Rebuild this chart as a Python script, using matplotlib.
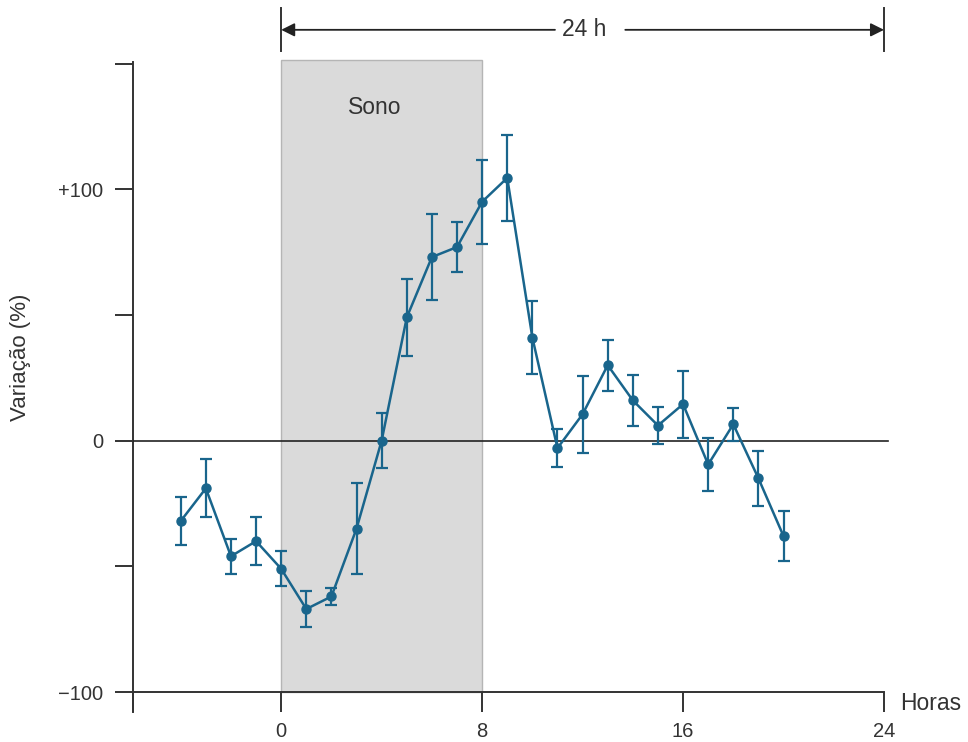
import matplotlib
matplotlib.use("Agg")
import matplotlib.pyplot as plt
from matplotlib.patches import Rectangle

plt.rcParams['font.family'] = ['Liberation Sans', 'DejaVu Sans']

# Hourly variation (%) relative to the daily mean, with error bars
hours = [-4, -3, -2, -1, 0, 1, 2, 3, 4, 5, 6, 7, 8, 9, 10,
         11, 12, 13, 14, 15, 16, 17, 18, 19, 20]
variation = [-32, -19, -46, -40, -51, -67, -62, -35, 0, 49, 73, 77, 95, 104.5, 41,
             -3, 10.5, 30, 16, 6, 14.5, -9.5, 6.5, -15, -38]
err = [9.5, 11.5, 7, 9.5, 7, 7, 3.5, 18, 11, 15.3, 17, 10, 16.7, 17, 14.7,
       7.5, 15.3, 10.2, 10.2, 7.2, 13.3, 10.5, 6.5, 11, 10]

sleep_start, sleep_end = 0, 8
xticks = [0, 8, 16, 24]
yticks = [-100, -50, 0, 50, 100, 150]
ytick_labels = ['\u2212100', '', '0', '', '+100', '']

line_color = '#19658c'
ink = '#333333'

fig = plt.figure(figsize=(9.68, 7.42), dpi=100)
W, H = 968, 742
x_left, x_right = -5.9, 24
y_bot, y_top = -100, 150.6
ax = fig.add_axes([133 / W, (H - 692) / H, (884 - 133) / W, (692 - 62) / H])
ax.set_xlim(x_left, x_right)
ax.set_ylim(y_bot, y_top)
for s in ax.spines.values():
    s.set_visible(False)

# Sleep period
ax.add_patch(Rectangle((sleep_start, y_bot), sleep_end - sleep_start, 151.4 - y_bot,
                       facecolor='#dadada', edgecolor='#b5b5b5', linewidth=1,
                       clip_on=False, zorder=0))
ax.text(3.74, 132.4, 'Sono', fontsize=16.5, color=ink, ha='center', va='center')

# Axis lines
ax.plot([x_left, x_left], [-108, y_top], color=ink, lw=1.4, clip_on=False, zorder=1)
ax.plot([x_left, x_right], [y_bot, y_bot], color=ink, lw=1.4, clip_on=False, zorder=1)
ax.plot([x_left, 24.15], [0, 0], color='#222222', lw=1.2, clip_on=False, zorder=1)

# Ticks
ax.set_xticks([x_left] + xticks)
ax.set_xticklabels([''] + [str(t) for t in xticks])
ax.set_yticks(yticks)
ax.set_yticklabels(ytick_labels)
ax.tick_params(axis='x', direction='out', length=14.4, width=1.4, color=ink,
               labelsize=14.5, labelcolor=ink, pad=7)
ax.tick_params(axis='y', direction='out', length=13, width=1.4, color=ink,
               labelsize=14.5, labelcolor=ink, pad=8.6)

fig.text(21 / W, 1 - 357 / H, 'Variação (%)', fontsize=16, color=ink,
         rotation=90, ha='center', va='center')
ax.text(24.64, y_bot - 4.5, 'Horas', fontsize=16.5, color=ink, ha='left', va='center',
        clip_on=False)

# Data series
ax.errorbar(hours, variation, yerr=err, color=line_color, lw=1.8, marker='o',
            markersize=6.5, elinewidth=1.6, capsize=4, capthick=1.6, zorder=3)

# 24 h span indicator
y_arrow = 163.4
for xv in (0, 24):
    ax.plot([xv, xv], [155, 172], color=ink, lw=1.4, clip_on=False)
ax.annotate('', xy=(0, y_arrow), xytext=(10.9, y_arrow), annotation_clip=False,
            arrowprops=dict(arrowstyle='-|>', color='#222222', lw=1.3,
                            mutation_scale=20, shrinkA=0, shrinkB=0))
ax.annotate('', xy=(24, y_arrow), xytext=(13.7, y_arrow), annotation_clip=False,
            arrowprops=dict(arrowstyle='-|>', color='#222222', lw=1.3,
                            mutation_scale=20, shrinkA=0, shrinkB=0))
ax.text(12.05, y_arrow, '24 h', fontsize=16.5, color=ink, ha='center', va='center')

fig.savefig('out.png', dpi=100)
